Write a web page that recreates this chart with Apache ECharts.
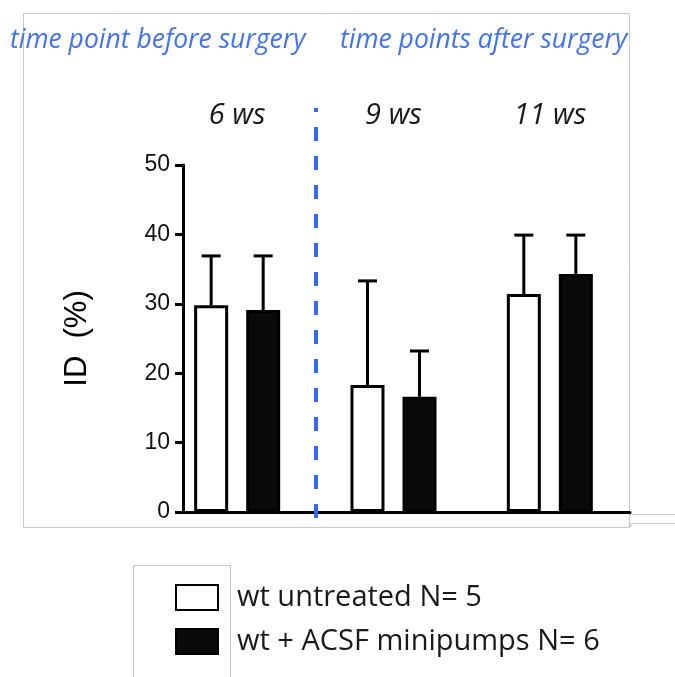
<!DOCTYPE html>
<html>
<head>
<meta charset="utf-8">
<script src="https://cdn.jsdelivr.net/npm/echarts@6/dist/echarts.min.js"></script>
<style>html,body{margin:0;padding:0;background:#fff;}#chart{width:675px;height:677px;}</style>
</head>
<body>
<div id="chart"></div>
<script>
// ---- data ----
var categories = ['6 ws', '9 ws', '11 ws'];
var seriesNames = ['wt untreated N= 5', 'wt + ACSF minipumps N= 6'];
var untreatedMean = [29.8, 18.3, 31.4];
var untreatedSD = [7.1, 15.0, 8.5];
var acsfMean = [29.1, 16.6, 34.3];
var acsfSD = [7.8, 6.6, 5.6];
var yTicks = [0, 10, 20, 30, 40, 50];
var periodLabels = ['time point before surgery', 'time points after surgery'];
var dividerPosition = [1]; // boundary between the first and second category

// ---- styles ----
var BAR_W = 34, GAP = 0.53;
var OFFSET = BAR_W * (1 + GAP) / 2;

function errorSeries(name, means, sds, offset) {
  return {
    type: 'custom', name: name + ' err', xAxisIndex: 1, yAxisIndex: 1, z: 5,
    data: means.map(function (m, i) { return [i, m, m + sds[i]]; }),
    renderItem: function (params, api) {
      var p0 = api.coord([api.value(0), api.value(1)]);
      var p1 = api.coord([api.value(0), api.value(2)]);
      var x = p0[0] + offset;
      return {
        type: 'group',
        children: [
          { type: 'line', shape: { x1: x, y1: p0[1], x2: x, y2: p1[1] }, style: { stroke: '#000', lineWidth: 3 } },
          { type: 'line', shape: { x1: x - 9.5, y1: p1[1], x2: x + 9.5, y2: p1[1] }, style: { stroke: '#000', lineWidth: 3 } }
        ]
      };
    }
  };
}

var chart = echarts.init(document.getElementById('chart'), null, { renderer: 'canvas' });
var blueText = { fontFamily: 'Open Sans', fontStyle: 'italic', fontWeight: 'normal', fontSize: 26.5, color: '#4272ee' };
var option = {
  backgroundColor: '#fff',
  animation: false,
  title: [
    { text: periodLabels[0], left: 10, top: 27, padding: 0, textStyle: blueText },
    { text: periodLabels[1], left: 340, top: 27, padding: 0, textStyle: blueText }
  ],
  legend: {
    left: 175, top: 583, padding: 0, orient: 'vertical', itemWidth: 42, itemHeight: 25, itemGap: 15,
    icon: 'rect', data: seriesNames,
    textStyle: { fontFamily: 'Open Sans', fontSize: 29, color: '#1a1a1a', padding: [0, 0, 0, 14] }
  },
  grid: [
    { left: 183, width: 447, top: 165, height: 347 },
    { left: 159, width: 469, top: 165, height: 347 },
    { left: 159, width: 469, top: 108, height: 410 }
  ],
  xAxis: [
    { gridIndex: 0, type: 'value', min: 0, max: 1, axisLine: { lineStyle: { color: '#000', width: 3 } }, axisTick: { show: false }, axisLabel: { show: false }, splitLine: { show: false } },
    { gridIndex: 1, type: 'category', data: categories, position: 'top', axisLine: { show: false }, axisTick: { show: false },
      axisLabel: { margin: 35, fontFamily: 'Open Sans', fontStyle: 'italic', fontSize: 29, color: '#1a1a1a' } },
    { gridIndex: 2, type: 'value', min: 0, max: categories.length, show: false }
  ],
  yAxis: [
    { gridIndex: 0, type: 'value', min: yTicks[0], max: yTicks[yTicks.length - 1], interval: 10,
      name: 'ID  (%)', nameLocation: 'middle', nameGap: 90, nameRotate: 90,
      nameTextStyle: { fontFamily: 'Liberation Sans', fontSize: 31, color: '#000' },
      axisLine: { show: true, lineStyle: { color: '#000', width: 3 } },
      axisTick: { show: true, length: 8, lineStyle: { color: '#000', width: 3 } },
      axisLabel: { margin: 13, fontFamily: 'Liberation Sans', fontSize: 23, color: '#111' },
      splitLine: { show: false } },
    { gridIndex: 1, type: 'value', min: 0, max: 50, show: false },
    { gridIndex: 2, type: 'value', min: 0, max: 1, show: false }
  ],
  series: [
    { type: 'bar', name: seriesNames[0], xAxisIndex: 1, yAxisIndex: 1, data: untreatedMean, barWidth: BAR_W, barGap: (GAP * 100) + '%',
      itemStyle: { color: '#fff', borderColor: '#000', borderWidth: 3 } },
    { type: 'bar', name: seriesNames[1], xAxisIndex: 1, yAxisIndex: 1, data: acsfMean, barWidth: BAR_W, barGap: (GAP * 100) + '%',
      itemStyle: { color: '#0a0a0a', borderColor: '#000', borderWidth: 3 } },
    errorSeries(seriesNames[0], untreatedMean, untreatedSD, -OFFSET),
    errorSeries(seriesNames[1], acsfMean, acsfSD, OFFSET),
    { type: 'scatter', xAxisIndex: 2, yAxisIndex: 2, data: [], z: 10,
      markLine: { silent: true, symbol: 'none', label: { show: false },
        lineStyle: { color: '#3369f5', width: 4, type: [14, 15] },
        data: dividerPosition.map(function (v) { return { xAxis: v }; }) } }
  ],
  graphic: [
    { type: 'rect', shape: { x: 23.5, y: 13.5, width: 606, height: 514 }, style: { fill: 'none', stroke: '#c8c8c8', lineWidth: 1 }, z: -10 },
    { type: 'polyline', shape: { points: [[630, 514.5], [675, 514.5]] }, style: { stroke: '#c8c8c8', lineWidth: 1 } },
    { type: 'polyline', shape: { points: [[630.5, 527], [630.5, 523.5], [675, 523.5]] }, style: { stroke: '#c8c8c8', lineWidth: 1 } },
    { type: 'polyline', shape: { points: [[133.5, 677], [133.5, 565.5], [230.5, 565.5], [230.5, 677]] }, style: { stroke: '#c8c8c8', lineWidth: 1, fill: 'none' } }
  ]
};
chart.setOption(option);
</script>
</body>
</html>
